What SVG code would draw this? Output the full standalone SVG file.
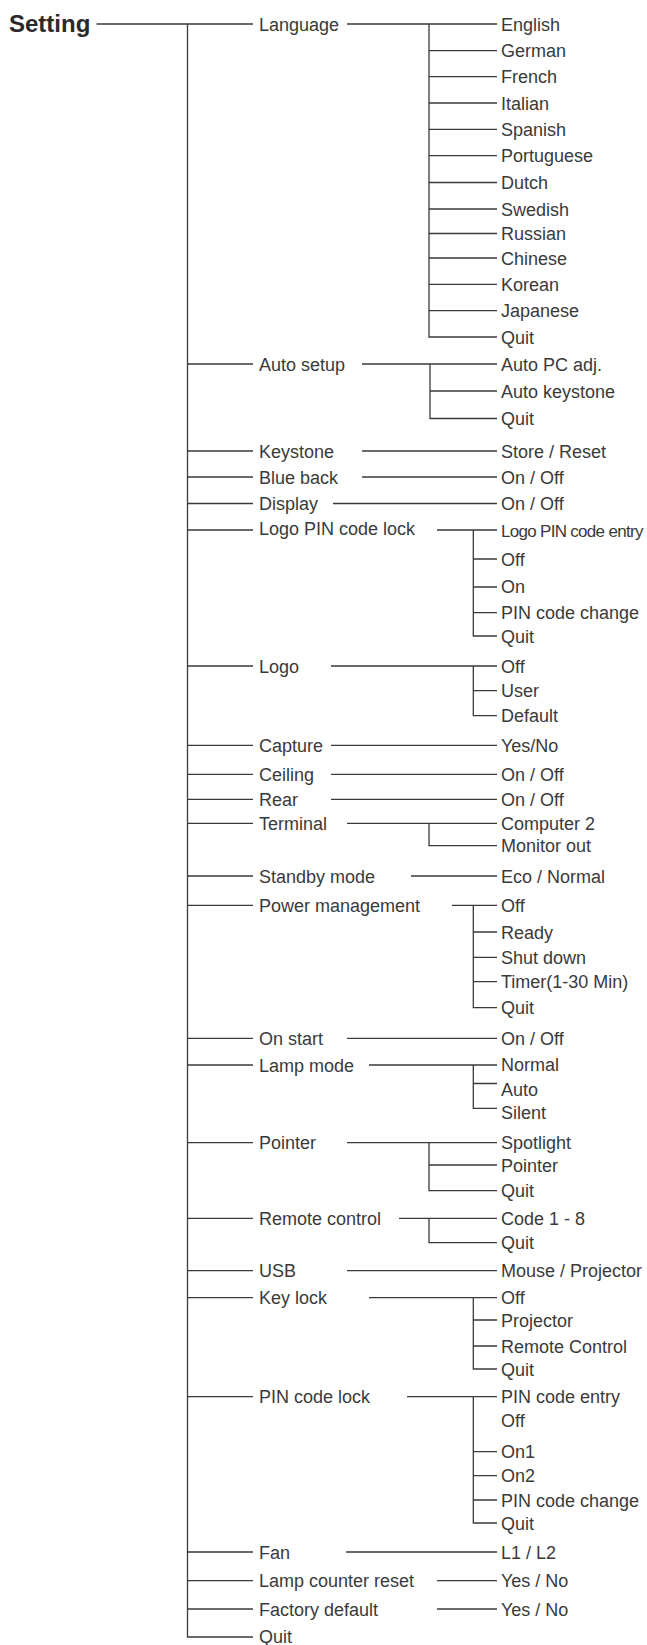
<svg xmlns="http://www.w3.org/2000/svg" width="647" height="1645" viewBox="0 0 647 1645">
<style>
.t{font-family:"Liberation Sans",Arial,sans-serif;font-size:18px;fill:#3a3a3a}
.root{font-family:"Liberation Sans",Arial,sans-serif;font-size:24px;font-weight:bold;fill:#2a2a2a}
.c{stroke:#3a3a3a;stroke-width:1.3;fill:none}
</style>
<rect width="647" height="1645" fill="#ffffff"/>
<g id="connectors" class="c">
<path d="M96.5 24H253M187.5 24V1637H253"/>
<path d="M187.5 364H253M187.5 451H253M187.5 477H253M187.5 503.5H253M187.5 530H253M187.5 666H253M187.5 745.3H253M187.5 774.3H253M187.5 799.3H253M187.5 823.3H253M187.5 876H253M187.5 905.3H253M187.5 1038.3H253M187.5 1065H253M187.5 1142.7H253M187.5 1218.3H253M187.5 1270.7H253M187.5 1297.7H253M187.5 1396.7H253M187.5 1552H253M187.5 1580.7H253M187.5 1609H253"/>
<path d="M347 24H497M429 24V337H497M429 50.7H497M429 76.7H497M429 103H497M429 129.3H497M429 155.7H497M429 182.5H497M429 209H497M429 233.5H497M429 258H497M429 284.3H497M429 310.7H497"/>
<path d="M362 364H497M430 364V418.5H497M430 391H497"/>
<path d="M362 451H497M362 477H497M333 503.5H497"/>
<path d="M437 530H497M473.3 530V636H497M473.3 559H497M473.3 587H497M473.3 612.7H497"/>
<path d="M331 666H497M473.3 666V715.7H497M473.3 690.7H497"/>
<path d="M331 745.3H497M331 774.3H497M331 799.3H497"/>
<path d="M347 823.3H497M429 823.3V845.7H497"/>
<path d="M411 876H497"/>
<path d="M452 905.3H497M473.3 905.3V1007.7H497M473.3 932H497M473.3 957.3H497M473.3 981.7H497"/>
<path d="M347 1038.3H497"/>
<path d="M369 1065H497M473.3 1065V1108.3H497M473.3 1083.5H497"/>
<path d="M347 1142.7H497M429 1142.7V1190.7H497M429 1165H497"/>
<path d="M399 1218.3H497M429 1218.3V1242.7H497"/>
<path d="M347 1270.7H497"/>
<path d="M369 1297.7H497M473.3 1297.7V1369H497M473.3 1320H497M473.3 1346H497"/>
<path d="M407 1396.7H497M473.3 1396.7V1523H497M473.3 1451.7H497M473.3 1475.7H497M473.3 1500H497"/>
<path d="M346 1552H497M437 1580.7H497M437 1609H497"/>
</g>
<g id="n-setting"><text class="root" x="9" y="32">Setting</text></g>
<g id="n-language"><text class="t" x="259" y="30.5">Language</text></g>
<g id="n-language-english"><text class="t" x="501" y="30.5">English</text></g>
<g id="n-language-german"><text class="t" x="501" y="57.2">German</text></g>
<g id="n-language-french"><text class="t" x="501" y="83.2">French</text></g>
<g id="n-language-italian"><text class="t" x="501" y="109.5">Italian</text></g>
<g id="n-language-spanish"><text class="t" x="501" y="135.8">Spanish</text></g>
<g id="n-language-portuguese"><text class="t" x="501" y="162.2">Portuguese</text></g>
<g id="n-language-dutch"><text class="t" x="501" y="189">Dutch</text></g>
<g id="n-language-swedish"><text class="t" x="501" y="215.5">Swedish</text></g>
<g id="n-language-russian"><text class="t" x="501" y="240">Russian</text></g>
<g id="n-language-chinese"><text class="t" x="501" y="264.5">Chinese</text></g>
<g id="n-language-korean"><text class="t" x="501" y="290.8">Korean</text></g>
<g id="n-language-japanese"><text class="t" x="501" y="317.2">Japanese</text></g>
<g id="n-language-quit"><text class="t" x="501" y="343.5">Quit</text></g>
<g id="n-autosetup"><text class="t" x="259" y="370.5">Auto setup</text></g>
<g id="n-autosetup-pc"><text class="t" x="501" y="370.5">Auto PC adj.</text></g>
<g id="n-autosetup-keystone"><text class="t" x="501" y="397.5">Auto keystone</text></g>
<g id="n-autosetup-quit"><text class="t" x="501" y="425">Quit</text></g>
<g id="n-keystone"><text class="t" x="259" y="457.5">Keystone</text></g>
<g id="n-keystone-store"><text class="t" x="501" y="457.5">Store / Reset</text></g>
<g id="n-blueback"><text class="t" x="259" y="483.5">Blue back</text></g>
<g id="n-blueback-onoff"><text class="t" x="501" y="483.5">On / Off</text></g>
<g id="n-display"><text class="t" x="259" y="510">Display</text></g>
<g id="n-display-onoff"><text class="t" x="501" y="510">On / Off</text></g>
<g id="n-logopin"><text class="t" x="259" y="535">Logo PIN code lock</text></g>
<g id="n-logopin-entry"><text class="t" x="501" y="536.5" style="font-size:17px;letter-spacing:-0.7px">Logo PIN code entry</text></g>
<g id="n-logopin-off"><text class="t" x="501" y="565.5">Off</text></g>
<g id="n-logopin-on"><text class="t" x="501" y="593">On</text></g>
<g id="n-logopin-change"><text class="t" x="501" y="619">PIN code change</text></g>
<g id="n-logopin-quit"><text class="t" x="501" y="642.5">Quit</text></g>
<g id="n-logo"><text class="t" x="259" y="672.5">Logo</text></g>
<g id="n-logo-off"><text class="t" x="501" y="672.5">Off</text></g>
<g id="n-logo-user"><text class="t" x="501" y="697">User</text></g>
<g id="n-logo-default"><text class="t" x="501" y="722">Default</text></g>
<g id="n-capture"><text class="t" x="259" y="751.8">Capture</text></g>
<g id="n-capture-yesno"><text class="t" x="501" y="751.8">Yes/No</text></g>
<g id="n-ceiling"><text class="t" x="259" y="780.8">Ceiling</text></g>
<g id="n-ceiling-onoff"><text class="t" x="501" y="780.8">On / Off</text></g>
<g id="n-rear"><text class="t" x="259" y="805.8">Rear</text></g>
<g id="n-rear-onoff"><text class="t" x="501" y="805.8">On / Off</text></g>
<g id="n-terminal"><text class="t" x="259" y="829.8">Terminal</text></g>
<g id="n-terminal-computer2"><text class="t" x="501" y="829.8">Computer 2</text></g>
<g id="n-terminal-monitor"><text class="t" x="501" y="852">Monitor out</text></g>
<g id="n-standby"><text class="t" x="259" y="882.5">Standby mode</text></g>
<g id="n-standby-eco"><text class="t" x="501" y="882.5">Eco / Normal</text></g>
<g id="n-power"><text class="t" x="259" y="911.8">Power management</text></g>
<g id="n-power-off"><text class="t" x="501" y="911.8">Off</text></g>
<g id="n-power-ready"><text class="t" x="501" y="938.5">Ready</text></g>
<g id="n-power-shutdown"><text class="t" x="501" y="963.8">Shut down</text></g>
<g id="n-power-timer"><text class="t" x="501" y="988.2">Timer(1-30 Min)</text></g>
<g id="n-power-quit"><text class="t" x="501" y="1014.2">Quit</text></g>
<g id="n-onstart"><text class="t" x="259" y="1044.8">On start</text></g>
<g id="n-onstart-onoff"><text class="t" x="501" y="1044.8">On / Off</text></g>
<g id="n-lampmode"><text class="t" x="259" y="1071.5">Lamp mode</text></g>
<g id="n-lampmode-normal"><text class="t" x="501" y="1070.5">Normal</text></g>
<g id="n-lampmode-auto"><text class="t" x="501" y="1096">Auto</text></g>
<g id="n-lampmode-silent"><text class="t" x="501" y="1119">Silent</text></g>
<g id="n-pointer"><text class="t" x="259" y="1149.2">Pointer</text></g>
<g id="n-pointer-spotlight"><text class="t" x="501" y="1149.2">Spotlight</text></g>
<g id="n-pointer-pointer"><text class="t" x="501" y="1171.5">Pointer</text></g>
<g id="n-pointer-quit"><text class="t" x="501" y="1197.2">Quit</text></g>
<g id="n-remote"><text class="t" x="259" y="1224.8">Remote control</text></g>
<g id="n-remote-code"><text class="t" x="501" y="1224.8">Code 1 - 8</text></g>
<g id="n-remote-quit"><text class="t" x="501" y="1249.2">Quit</text></g>
<g id="n-usb"><text class="t" x="259" y="1277.2">USB</text></g>
<g id="n-usb-mouse"><text class="t" x="501" y="1277.2">Mouse / Projector</text></g>
<g id="n-keylock"><text class="t" x="259" y="1304.2">Key lock</text></g>
<g id="n-keylock-off"><text class="t" x="501" y="1304.2">Off</text></g>
<g id="n-keylock-projector"><text class="t" x="501" y="1326.5">Projector</text></g>
<g id="n-keylock-remote"><text class="t" x="501" y="1352.5">Remote Control</text></g>
<g id="n-keylock-quit"><text class="t" x="501" y="1375.5">Quit</text></g>
<g id="n-pinlock"><text class="t" x="259" y="1403.2">PIN code lock</text></g>
<g id="n-pinlock-entry"><text class="t" x="501" y="1402.5">PIN code entry</text></g>
<g id="n-pinlock-off"><text class="t" x="501" y="1427">Off</text></g>
<g id="n-pinlock-on1"><text class="t" x="501" y="1458.2">On1</text></g>
<g id="n-pinlock-on2"><text class="t" x="501" y="1482.2">On2</text></g>
<g id="n-pinlock-change"><text class="t" x="501" y="1506.5">PIN code change</text></g>
<g id="n-pinlock-quit"><text class="t" x="501" y="1529.5">Quit</text></g>
<g id="n-fan"><text class="t" x="259" y="1558.5">Fan</text></g>
<g id="n-fan-l1l2"><text class="t" x="501" y="1558.5">L1 / L2</text></g>
<g id="n-lampcounter"><text class="t" x="259" y="1587.2">Lamp counter reset</text></g>
<g id="n-lampcounter-yesno"><text class="t" x="501" y="1587.2">Yes / No</text></g>
<g id="n-factory"><text class="t" x="259" y="1615.5">Factory default</text></g>
<g id="n-factory-yesno"><text class="t" x="501" y="1615.5">Yes / No</text></g>
<g id="n-quit"><text class="t" x="259" y="1643">Quit</text></g>
</svg>
